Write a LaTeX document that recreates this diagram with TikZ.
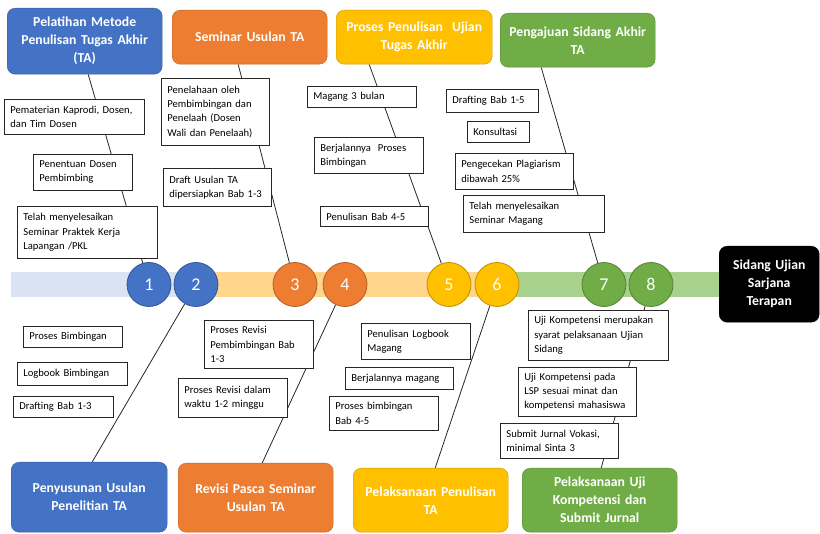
\documentclass[tikz,border=0pt]{standalone}
\usepackage{fontspec}
\setmainfont{Carlito}
\usetikzlibrary{calc,backgrounds}
\definecolor{tablue}{HTML}{4472C4}
\definecolor{taorange}{HTML}{ED7D31}
\definecolor{tayellow}{HTML}{FFC000}
\definecolor{tagreen}{HTML}{70AD47}
\definecolor{bandblue}{HTML}{DAE3F3}
\definecolor{bandorange}{HTML}{FFD68C}
\definecolor{bandgreen}{HTML}{A9D18E}
\begin{document}
\begin{tikzpicture}[x=1pt,y=-1pt,
    phase/.style={rounded corners=8pt, fill=#1, draw=#1!80!black, text=white, align=center,
      anchor=north west, inner sep=3pt, font=\fontsize{13.7}{18}\selectfont\bfseries},
    note/.style={draw=black!85, line width=0.8pt, fill=white, align=left, anchor=north west,
      inner xsep=6pt, inner ysep=2pt, font=\fontsize{10.6}{14.2}\selectfont},
    numdot/.style={circle, minimum size=44pt, inner sep=0pt, fill=#1, draw=#1!75!black,
      line width=0.8pt, text=white, font=\fontsize{18}{18}\selectfont},
    link/.style={draw=black!85, line width=0.8pt}]
    \useasboundingbox (0,0) rectangle (820,534);
    \clip (0,0) rectangle (820,534);

    % tahapan atas
    \node[phase=tablue, text width=149pt, minimum height=66pt] (t1) at (7,8) {Pelatihan Metode\\Penulisan Tugas Akhir\\(TA)};
    \node[phase=taorange, text width=149pt, minimum height=54pt] (t2) at (172,10) {Seminar Usulan TA};
    \node[phase=tayellow, text width=150pt, minimum height=54pt] (t3) at (336,10) {Proses Penulisan\ \ Ujian\\Tugas Akhir};
    \node[phase=tagreen, text width=149pt, minimum height=54pt] (t4) at (500,13) {Pengajuan Sidang Akhir\\TA};

    % tahapan bawah
    \node[phase=tablue, text width=150pt, minimum height=70pt] (b1) at (11,462) {Penyusunan Usulan\\Penelitian TA};
    \node[phase=taorange, text width=149pt, minimum height=69pt] (b2) at (178,463) {Revisi Pasca Seminar\\Usulan TA};
    \node[phase=tayellow, text width=149pt, minimum height=64pt] (b3) at (353,468) {Pelaksanaan Penulisan\\TA};
    \node[phase=tagreen, text width=149pt, minimum height=64pt] (b4) at (522,468) {Pelaksanaan Uji\\Kompetensi dan\\Submit Jurnal};

    \node[phase=black, text width=94pt, minimum height=76pt] (sidang) at (719,246) {Sidang Ujian\\Sarjana\\Terapan};

    % titik tahapan
    \foreach \n/\x/\c in {1/149/tablue, 2/196/tablue, 3/295/taorange, 4/345/taorange,
                          5/449/tayellow, 6/497/tayellow, 7/604/tagreen, 8/651/tagreen}
        \node[numdot=\c] (c\n) at (\x,284.5) {\n};

    % keterangan atas
    \node[note, text width=128pt, minimum height=35pt] (n1) at (4,99) {Pematerian Kaprodi, Dosen,\\dan Tim Dosen};
    \node[note, text width=87pt, minimum height=36pt] (n2) at (33,154) {Penentuan Dosen\\Pembimbing};
    \node[note, text width=128pt, minimum height=52pt] (n3) at (17,206) {Telah menyelesaikan\\Seminar Praktek Kerja\\Lapangan /PKL};
    \node[note, text width=96pt, minimum height=67pt] (n4) at (161,78) {Penelahaan oleh\\Pembimbingan dan\\Penelaah (Dosen\\Wali dan Penelaah)};
    \node[note, text width=96pt, minimum height=38pt] (n5) at (163,168) {Draft Usulan TA\\dipersiapkan Bab 1-3};
    \node[note, text width=97pt, minimum height=21pt] (n6) at (307,86) {Magang 3 bulan};
    \node[note, text width=97pt, minimum height=36pt] (n7) at (314,137) {Berjalannya\ \ Proses\\Bimbingan};
    \node[note, text width=96pt, minimum height=20pt] (n8) at (320,206) {Penulisan Bab 4-5};
    \node[note, text width=80pt, minimum height=23pt] (n9) at (446,89) {Drafting Bab 1-5};
    \node[note, text width=50pt, minimum height=21pt] (n10) at (467,121) {Konsultasi};
    \node[note, text width=106pt, minimum height=36pt] (n11) at (455,153) {Pengecekan Plagiarism\\dibawah 25\%};
    \node[note, text width=129pt, minimum height=37pt] (n12) at (463,195) {Telah menyelesaikan\\Seminar Magang};

    % keterangan bawah
    \node[note, text width=87pt, minimum height=21pt] (n13) at (23,326) {Proses Bimbingan};
    \node[note, text width=98pt, minimum height=23pt] (n14) at (17,362) {Logbook Bimbingan};
    \node[note, text width=88pt, minimum height=21pt] (n15) at (13,396) {Drafting Bab 1-3};
    \node[note, text width=97pt, minimum height=48pt] (n16) at (204,320) {Proses Revisi\\Pembimbingan Bab\\1-3};
    \node[note, text width=97pt, minimum height=39pt] (n17) at (178,378) {Proses Revisi dalam\\waktu 1-2 minggu};
    \node[note, text width=97pt, minimum height=36pt] (n18) at (361,323) {Penulisan Logbook\\Magang};
    \node[note, text width=96pt, minimum height=22pt] (n19) at (345,367) {Berjalannya magang};
    \node[note, text width=97pt, minimum height=34pt] (n20) at (329,396) {Proses bimbingan\\Bab 4-5};
    \node[note, text width=128pt, minimum height=50pt] (n21) at (528,310) {Uji Kompetensi merupakan\\syarat pelaksanaan Ujian\\Sidang};
    \node[note, text width=106pt, minimum height=49pt] (n22) at (518,367) {Uji Kompetensi pada\\LSP sesuai minat dan\\kompetensi mahasiswa};
    \node[note, text width=106pt, minimum height=35pt] (n23) at (500,423) {Submit Jurnal Vokasi,\\minimal Sinta 3};

    \begin{scope}[on background layer]
        \fill[bandblue] (11,272) rectangle (196,297);
        \fill[bandorange] (196,272) rectangle (505,297);
        \fill[bandgreen] (505,272) rectangle (719,297);
        \draw[link] ($(t1.south)+(3.5,0)$) -- (c1);
        \draw[link] ($(t2.south)+(-11.5,0)$) -- (c3);
        \draw[link] ($(t3.south)+(-45,0)$) -- (c5);
        \draw[link] ($(t4.south)+(-36.5,0)$) -- (c7);
        \draw[link] (c2) -- ($(b1.north)+(3,0)$);
        \draw[link] (c4) -- ($(b2.north)+(6.5,0)$);
        \draw[link] (c6) -- ($(b3.north)+(4.5,0)$);
        \draw[link] (c8) -- ($(b4.north)+(1.5,0)$);
    \end{scope}
\end{tikzpicture}
\end{document}
